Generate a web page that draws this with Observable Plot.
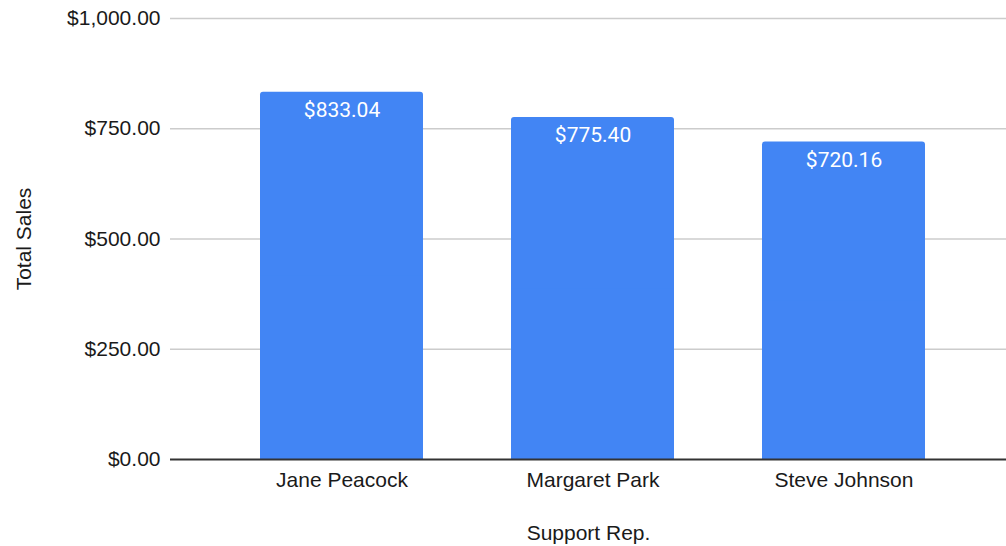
<!DOCTYPE html>
<html>
<head>
<meta charset="utf-8">
<script src="https://cdn.jsdelivr.net/npm/d3@7"></script>
<script src="https://cdn.jsdelivr.net/npm/@observablehq/plot@0.6"></script>
<style>
  html, body { margin: 0; padding: 0; background: #fff; }
  #chart svg { display: block; }
</style>
</head>
<body>
<div id="chart"></div>
<script>
const reps = ["Jane Peacock", "Margaret Park", "Steve Johnson"];
const sales = [833.04, 775.40, 720.16];
const yTicks = [0, 250, 500, 750, 1000];

const data = reps.map((rep, i) => ({rep, value: sales[i]}));
const fmt = d3.format("$,.2f");
const font = "'Liberation Sans', Arial, sans-serif";

const chart = Plot.plot({
  width: 1006,
  height: 546,
  marginTop: 18,
  marginBottom: 87,
  marginLeft: 170,
  marginRight: 0,
  style: {fontFamily: font, fontSize: "21px", color: "#1a1a1a", background: "#fff"},
  x: {domain: reps, range: [170, 1014], paddingInner: 0.352, paddingOuter: 0.354},
  y: {domain: [0, 1000]},
  marks: [
    Plot.ruleY(yTicks.filter(d => d > 0), {stroke: "#cccccc", strokeWidth: 1.3}),
    Plot.barY(data, {x: "rep", y: "value", fill: "#4285F4", rx: 3}),
    Plot.barY(data, {x: "rep", y: d => d.value / 2, fill: "#4285F4"}),
    Plot.ruleY([0], {stroke: "#333", strokeWidth: 1.8}),
    Plot.text(data, {x: "rep", y: "value", text: d => fmt(d.value), dy: 18, fill: "#fff",
      fontSize: 21, fontFamily: "Roboto, sans-serif"}),
    Plot.axisY({ticks: yTicks, tickFormat: fmt, tickSize: 0, tickPadding: 10,
      label: "Total Sales", labelAnchor: "center", labelOffset: 154, labelArrow: "none",
      fontSize: 21}),
    Plot.axisX({tickSize: 0, tickPadding: 13, label: "Support Rep.", labelAnchor: "center",
      labelOffset: 80, labelArrow: "none", fontSize: 21})
  ]
});
document.getElementById("chart").appendChild(chart);
</script>
</body>
</html>
